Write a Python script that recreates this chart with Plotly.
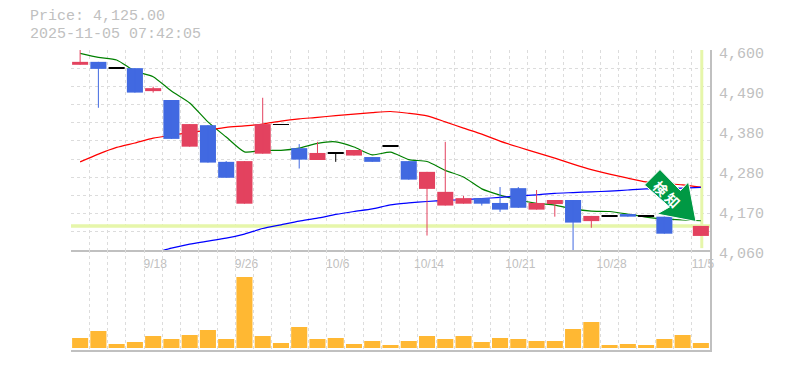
import plotly.graph_objects as go

W, H = 785, 370
L, R, T, B = 71, 710, 50, 350

dates = ["9/11","9/12","9/16","9/17","9/18","9/19","9/22","9/24","9/25","9/26",
         "9/29","9/30","10/1","10/2","10/6","10/7","10/8","10/9","10/10","10/14",
         "10/15","10/16","10/17","10/20","10/21","10/22","10/23","10/24","10/27","10/28",
         "10/29","10/30","10/31","11/4","11/5"]
opens = [4560,4568,4551,4551,4489,4465,4339,4397,4298,4185,
         4320,4399,4335,4303,4321,4315,4311,4340,4300,4225,
         4180,4185,4200,4187,4227,4169,4184,4195,4138,4151,
         4157,4151,4150,4190,4098]
closes = [4568,4549,4551,4485,4497,4360,4400,4296,4255,4300,
          4400,4399,4304,4322,4321,4330,4298,4340,4250,4271,
          4217,4200,4185,4169,4174,4187,4195,4134,4152,4151,
          4150,4151,4104,4170,4125]
highs = [4600,4568,4551,4551,4501,4465,4400,4397,4300,4300,
         4471,4399,4346,4352,4321,4330,4311,4340,4300,4271,
         4352,4206,4200,4230,4230,4222,4195,4195,4152,4151,
         4157,4151,4150,4190,4125]
lows = [4560,4444,4551,4485,4485,4360,4339,4296,4255,4185,
        4320,4399,4280,4303,4298,4315,4298,4340,4250,4099,
        4180,4185,4180,4163,4174,4169,4150,4058,4120,4151,
        4150,4151,4104,4170,4098]
volumes = [10,17,4,6,12,9,13,18,9,71,12,5,21,9,10,4,7,3,7,12,
           9,12,6,10,9,7,7,19,26,3,4,3,9,13,5]
ma_short = [4591,4580,4573,4543,4528,4489,4457,4406,4365,4325,
            4329,4329,4335,4348,4352,4338,4317,4324,4304,4299,
            4275,4257,4225,4208,4195,4186,4181,4171,4165,4164,
            4157,4149,4144,4141,4139]
ma_mid = [4298,4319,4337,4349,4362,4370,4377,4384,4391,4395,
          4400,4408,4414,4418,4423,4427,4431,4434,4429,4422,
          4406,4389,4373,4354,4338,4323,4308,4292,4277,4265,
          4254,4244,4240,4236,4230]
ma_long = [None,None,None,None,4051,4065,4076,4084,4092,4103,
           4118,4128,4138,4146,4156,4164,4171,4182,4187,4191,
           4194,4196,4199,4202,4206,4209,4213,4215,4217,4219,
           4222,4225,4226,4227,4229]
price_last = 4125
price_ticks = [4060,4168,4276,4384,4492,4600]
price_tick_labels = ["4,060","4,170","4,280","4,380","4,490","4,600"]
date_ticks = [4,9,14,19,24,29,34]

C_UP, C_DOWN, C_FLAT = "#e3425f", "#4169e1", "#000000"
C_GRID, C_AXIS, C_TEXT = "#dcdcdc", "#c0c0c0", "#c0c0c0"
C_HL = "#e6f6aa"
idx = list(range(len(dates)))
yr = [4060, 4600]

def fx(p): return (p - L) / (R - L)
def fy(p): return 1 - (p - T) / (B - T)

fig = go.Figure()

fig.add_trace(go.Scatter(x=[-0.5, 34.5], y=[price_last]*2, mode="lines", line=dict(color=C_HL, width=3.5), hoverinfo="skip"))
fig.add_trace(go.Scatter(x=[34.05, 34.05], y=[4065, 4600], mode="lines", line=dict(color=C_HL, width=3), hoverinfo="skip"))
for vals, col in [(ma_short, "#008000"), (ma_mid, "#ff0000"), (ma_long, "#0000ff")]:
    fig.add_trace(go.Scatter(x=idx, y=vals, mode="lines", cliponaxis=False,
                             line=dict(color=col, width=1.2, shape="spline", smoothing=0.6), hoverinfo="skip"))

colors = [C_FLAT if o == c else (C_UP if c > o else C_DOWN) for o, c in zip(opens, closes)]
fig.add_trace(go.Bar(x=idx, y=[max(abs(c - o), 1) for o, c in zip(opens, closes)],
                     base=[min(o, c) for o, c in zip(opens, closes)],
                     width=0.88, marker=dict(color=colors, line=dict(width=0)),
                     yaxis="y2", xaxis="x", hoverinfo="skip"))
for col in (C_UP, C_DOWN, C_FLAT):
    xs, ys = [], []
    for i, c in enumerate(colors):
        if c == col and highs[i] != lows[i]:
            xs += [i, i, None]; ys += [lows[i], highs[i], None]
    fig.add_trace(go.Scatter(x=xs, y=ys, mode="lines", cliponaxis=False, line=dict(color=col, width=1),
                             yaxis="y2", xaxis="x", hoverinfo="skip"))

fig.add_trace(go.Bar(x=idx, y=volumes, width=0.88, marker=dict(color="#ffb833", line=dict(width=0)),
                     xaxis="x2", yaxis="y3", hoverinfo="skip"))

minor_x = dict(showgrid=True, gridcolor=C_GRID, griddash="3px,3px", gridwidth=1, tick0=-0.5, dtick=1, ticklen=0)
axis_line = dict(showline=True, linecolor=C_AXIS, linewidth=2)

arrow = [(660,169.5),(644.5,185),(669.5,207),(657,214),(696,221.5),(688.5,182),(680.5,190.5)]
path = "M " + " L ".join(f"{fx(x):.5f} {fy(y):.5f}" for x, y in arrow) + " Z"

fig.update_layout(
    width=W, height=H, autosize=False, showlegend=False, barmode="overlay",
    paper_bgcolor="white", plot_bgcolor="white",
    margin=dict(l=L, r=W-R, t=T, b=H-B, autoexpand=False),
    font=dict(family="Liberation Sans", color=C_TEXT, size=12),
    xaxis=dict(domain=[0, 1], range=[-0.5, 34.5], anchor="y", showgrid=False, zeroline=False,
               tickvals=date_ticks, ticktext=[dates[i] for i in date_ticks], ticklen=0,
               ticklabelstandoff=2, ticklabelshift=2, tickfont=dict(family="Liberation Sans", size=12, color=C_TEXT),
               minor=minor_x, **axis_line),
    xaxis2=dict(domain=[0, 1], range=[-0.5, 34.5], anchor="y3", showgrid=False, zeroline=False,
                showticklabels=False, ticks="", minor=minor_x, **axis_line),
    yaxis=dict(domain=[1/3, 1], range=yr, side="right", anchor="x", showgrid=False, zeroline=False,
               tickvals=price_ticks, ticktext=price_tick_labels, ticklen=0, ticklabelstandoff=4,
               ticklabelshift=3, tickfont=dict(family="Liberation Mono", size=15, color=C_TEXT),
               minor=dict(showgrid=True, gridcolor=C_GRID, griddash="3px,3px", gridwidth=1,
                          tick0=4060, dtick=540/11, ticklen=0), **axis_line),
    yaxis2=dict(domain=[1/3, 1], range=yr, overlaying="y", side="right", anchor="x", visible=False),
    yaxis3=dict(domain=[0, 1/3], range=[-2, 98], side="right", anchor="x2", showgrid=False, zeroline=False,
                showticklabels=False, ticks="", **axis_line),
    shapes=[dict(type="path", xref="paper", yref="paper", path=path, fillcolor="#009944",
                 line=dict(color="white", width=1), layer="above")],
    annotations=[
        dict(xref="paper", yref="paper", x=fx(28), y=fy(17), text="Price: 4,125.00", showarrow=False,
             xanchor="left", yanchor="middle", font=dict(family="Liberation Mono", size=15, color=C_TEXT)),
        dict(xref="paper", yref="paper", x=fx(28), y=fy(34), text="2025-11-05 07:42:05", showarrow=False,
             xanchor="left", yanchor="middle", font=dict(family="Liberation Mono", size=15, color=C_TEXT)),
        dict(xref="paper", yref="paper", x=fx(660.7), y=fy(188), text="<b>検</b>", showarrow=False, textangle=45,
             xanchor="center", yanchor="middle", font=dict(family="Noto Sans CJK JP", size=14, color="white")),
        dict(xref="paper", yref="paper", x=fx(673), y=fy(200), text="<b>知</b>", showarrow=False, textangle=45,
             xanchor="center", yanchor="middle", font=dict(family="Noto Sans CJK JP", size=14, color="white")),
    ],
)
fig.write_html("out.html", config={"displayModeBar": False},
               post_script="document.body.style.margin='0';document.documentElement.style.overflow='hidden';")
